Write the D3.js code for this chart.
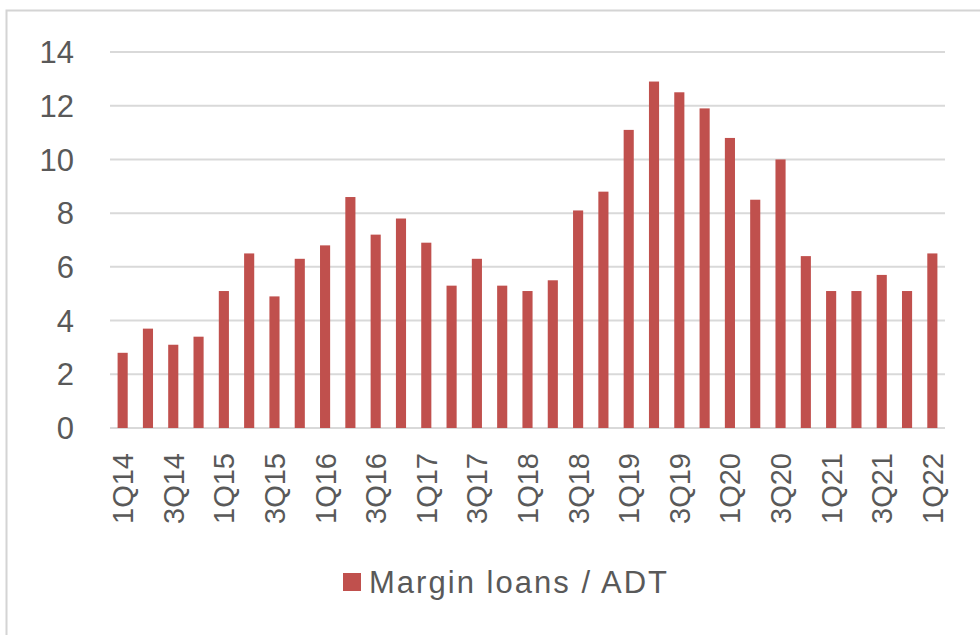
<!DOCTYPE html>
<html>
<head>
    <title>Margin loans / ADT</title>
    <script src="https://d3js.org/d3.v7.min.js"></script>
    <style>
        body { margin: 0; background: #fff; }
        text { font-family: "Liberation Sans", Arial, sans-serif; fill: #595959; }
    </style>
</head>
<body>
    <div id="chart"></div>
    <script>
        // quarters 1Q14 .. 1Q22
        const quarters = ["1Q14","2Q14","3Q14","4Q14","1Q15","2Q15","3Q15","4Q15",
            "1Q16","2Q16","3Q16","4Q16","1Q17","2Q17","3Q17","4Q17",
            "1Q18","2Q18","3Q18","4Q18","1Q19","2Q19","3Q19","4Q19",
            "1Q20","2Q20","3Q20","4Q20","1Q21","2Q21","3Q21","4Q21","1Q22"];
        const marginToAdt = [2.8, 3.7, 3.1, 3.4, 5.1, 6.5, 4.9, 6.3,
            6.8, 8.6, 7.2, 7.8, 6.9, 5.3, 6.3, 5.3,
            5.1, 5.5, 8.1, 8.8, 11.1, 12.9, 12.5, 11.9,
            10.8, 8.5, 10.0, 6.4, 5.1, 5.1, 5.7, 5.1, 6.5];
        const yTicks = [0, 2, 4, 6, 8, 10, 12, 14];
        const seriesName = "Margin loans / ADT";

        const width = 980, height = 635;
        const barColor = "#c0504d";

        const svg = d3.select("#chart").append("svg")
            .attr("width", width)
            .attr("height", height);

        // frame of the chart area
        svg.append("rect")
            .attr("x", 6.5).attr("y", 10.5)
            .attr("width", 1000).attr("height", 1000)
            .attr("fill", "#fff")
            .attr("stroke", "#d4d4d4")
            .attr("stroke-width", 2);

        const x = d3.scaleBand()
            .domain(quarters)
            .range([110, 945])
            .paddingInner(0.6)
            .paddingOuter(0.3);

        const y = d3.scaleLinear()
            .domain([0, 14])
            .range([428, 52]);

        // gridlines
        svg.append("g")
            .selectAll("line")
            .data(yTicks)
            .enter().append("line")
            .attr("x1", 110).attr("x2", 945)
            .attr("y1", d => y(d)).attr("y2", d => y(d))
            .attr("stroke", "#d9d9d9")
            .attr("stroke-width", 2);

        // y labels
        svg.append("g")
            .selectAll("text")
            .data(yTicks)
            .enter().append("text")
            .attr("x", 74)
            .attr("y", d => y(d))
            .attr("dy", "0.36em")
            .attr("text-anchor", "end")
            .style("font-size", "31px")
            .text(d => d);

        // bars
        svg.append("g")
            .selectAll("rect")
            .data(quarters)
            .enter().append("rect")
            .attr("x", d => x(d))
            .attr("width", x.bandwidth())
            .attr("y", (d, i) => y(marginToAdt[i]))
            .attr("height", (d, i) => y(0) - y(marginToAdt[i]))
            .attr("fill", barColor);

        // x labels, every other quarter, rotated
        svg.append("g")
            .selectAll("text")
            .data(quarters.filter((d, i) => i % 2 === 0))
            .enter().append("text")
            .attr("transform", d => `translate(${x(d) + x.bandwidth() / 2},453) rotate(-90)`)
            .attr("dy", "0.36em")
            .attr("text-anchor", "end")
            .style("font-size", "29px")
            .text(d => d);

        // legend
        svg.append("rect")
            .attr("x", 343).attr("y", 573)
            .attr("width", 18).attr("height", 18)
            .attr("fill", barColor);

        svg.append("text")
            .attr("x", 369).attr("y", 582)
            .attr("dy", "0.36em")
            .attr("textLength", 298)
            .style("font-size", "31px")
            .text(seriesName);
    </script>
</body>
</html>
